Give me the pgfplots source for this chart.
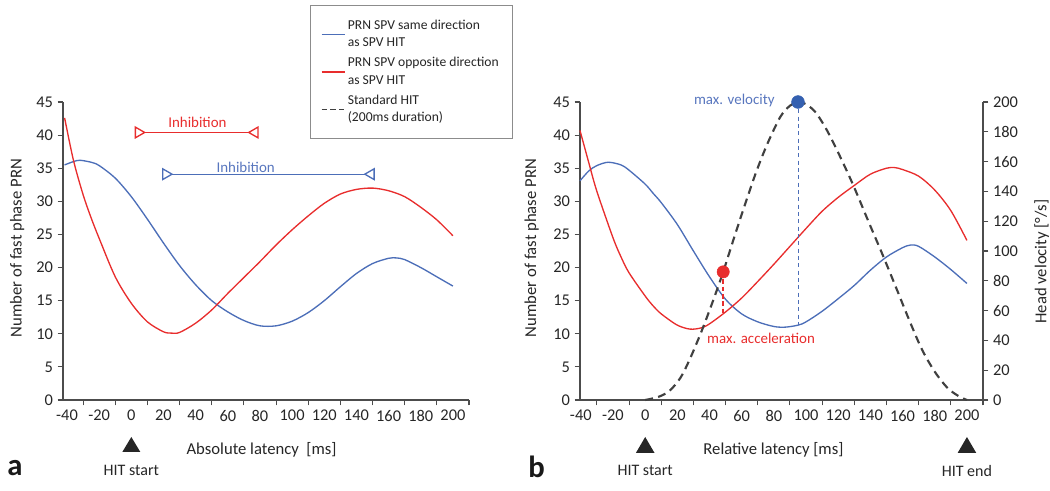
\documentclass[border=0pt]{standalone}
\usepackage{fontspec}
\setmainfont{Carlito}
\usepackage{pgfplots}
\pgfplotsset{compat=1.18}
\usetikzlibrary{arrows.meta}
\definecolor{cblue}{RGB}{76,110,184}
\definecolor{cred}{RGB}{232,45,45}
\definecolor{cdash}{RGB}{64,64,64}
\definecolor{tblue}{RGB}{88,118,190}
\definecolor{dblue}{RGB}{52,96,176}
\newcommand{\lgd}[2]{\fontsize{10.2}{13}\selectfont\begin{tabular}[t]{@{}l@{}}#1\\#2\end{tabular}}
\pgfplotsset{
  base/.style={
    scale only axis, clip=false,
    /pgf/number format/assume math mode=true,
    tick align=outside,
    major tick length=4pt, minor tick length=4pt,
    axis line style={black!70, line width=0.8pt},
    tick style={black!70, line width=0.8pt},
    every major x tick/.append style={draw=none},
    tick label style={font=\fontsize{12.3}{14}\selectfont, text=black!85},
    label style={font=\fontsize{12.5}{15}\selectfont, text=black!85},
    ymin=0, ymax=45, ytick={0,5,...,45},
    xmax=210,
    xtick={-40,-20,...,200},
    minor xtick={-30,-10,...,210},
  }
}
\begin{document}
\begin{tikzpicture}
\path[use as bounding box] (0,0) rectangle (787.5pt,368.25pt);
% ---------------- panel a ----------------
\begin{axis}[base,
  at={(47.25pt,68.25pt)}, anchor=south west,
  width=304.5pt, height=223.5pt,
  xmin=-42.5,
  axis x line*=bottom, axis y line*=left,
  xlabel={Absolute latency\ \ [ms]},
  ylabel={Number of fast phase PRN},
  xlabel style={at={(axis description cs:0.489,-0.168)}, anchor=center},
  ylabel style={at={(axis description cs:-0.1126,0.51)}, anchor=center},
  legend cell align=left,
  legend style={at={(axis description cs:0.6084,1.3255)}, anchor=north west,
    draw=black!45, line width=0.6pt, fill=white,
    font=\fontsize{10.2}{13}\selectfont, text=black!85,
    nodes={text depth=}, row sep=-2pt, inner xsep=8pt, inner ysep=7pt},
]
\addplot[cblue, line width=1pt, smooth] coordinates {
(-41.5,35.5) (-36,36.0) (-32,36.2) (-25,35.9) (-20,35.4) (-10,33.5) (0,30.7) (10,27.3) (20,23.7) (30,20.3) (40,17.4) (50,15.0) (60,13.3) (70,12.0) (80,11.2) (90,11.2) (100,11.9) (110,13.2) (120,15.0) (130,17.1) (140,19.1) (150,20.6) (160,21.4) (165,21.45) (170,21.2) (180,20.0) (190,18.6) (200,17.2)};
\addlegendentry{\lgd{PRN SPV same direction}{as SPV HIT}}
\addplot[cred, line width=1pt, smooth] coordinates {
(-41.5,42.6) (-36,36.2) (-30,31.0) (-25,27.5) (-20,24.4) (-10,18.6) (0,14.6) (10,11.8) (20,10.3) (25,10.1) (30,10.2) (40,11.6) (50,13.6) (60,16.1) (70,18.5) (80,20.9) (90,23.4) (100,25.7) (110,27.8) (120,29.7) (130,31.1) (140,31.8) (150,32.0) (160,31.6) (170,30.7) (180,29.1) (190,27.2) (200,24.8)};
\addlegendentry{\lgd{PRN SPV opposite direction}{as SPV HIT}}
\addlegendimage{cdash, line width=1pt, dash pattern=on 4pt off 2.5pt}
\addlegendentry{\lgd{Standard HIT}{(200ms duration)}}
% inhibition bars
\addplot[cred, line width=1pt, forget plot,
  {Triangle[open,reversed,length=8.5pt,width=9.5pt,line width=1pt]}-{Triangle[open,reversed,length=8.5pt,width=9.5pt,line width=1pt]}]
  coordinates {(2.1,40.4) (79.2,40.4)};
\addplot[cblue, line width=1pt, forget plot,
  {Triangle[open,reversed,length=8.5pt,width=9.5pt,line width=1pt]}-{Triangle[open,reversed,length=8.5pt,width=9.5pt,line width=1pt]}]
  coordinates {(19.1,34.1) (151.4,34.1)};
\node[text=cred, font=\fontsize{11.2}{13}\selectfont] at (axis cs:41.1,41.9) {Inhibition};
\node[text=tblue, font=\fontsize{11.2}{13}\selectfont] at (axis cs:71.1,35.2) {Inhibition};
\node[font=\fontsize{12}{14}\selectfont, text=black!85] at ([yshift=-53pt]axis cs:0,0) {HIT start};
\end{axis}
% ---------------- panel b ----------------
\begin{axis}[base,
  at={(435pt,68.25pt)}, anchor=south west,
  width=302.25pt, height=223.5pt,
  xmin=-40.5,
  axis x line*=bottom, axis y line*=left,
  xlabel={Relative latency [ms]},
  ylabel={Number of fast phase PRN},
  xlabel style={at={(axis description cs:0.48,-0.168)}, anchor=center},
  ylabel style={at={(axis description cs:-0.12,0.51)}, anchor=center},
]
\addplot[cblue, line width=1pt, smooth] coordinates {
(-40.5,33.1) (-35,34.6) (-30,35.4) (-23,35.9) (-15,35.5) (-10,34.7) (0,32.6) (5,31.2) (10,29.8) (20,26.5) (30,22.5) (40,18.6) (50,15.2) (60,13.0) (70,11.8) (80,11.1) (87,11.0) (95,11.3) (100,11.8) (110,13.4) (120,15.3) (130,17.3) (140,19.6) (150,21.6) (160,23.0) (165,23.4) (170,23.2) (180,21.6) (190,19.7) (200,17.6)};
\addplot[cred, line width=1pt, smooth] coordinates {
(-40.5,40.7) (-35,35.8) (-30,31.5) (-20,24.5) (-15,21.6) (-10,19.2) (0,15.7) (5,14.2) (10,13.0) (20,11.3) (28,10.7) (35,10.9) (40,11.5) (50,13.3) (60,15.4) (70,17.9) (80,20.5) (90,23.2) (100,25.9) (110,28.5) (120,30.6) (130,32.4) (140,34.1) (150,35.0) (155,35.1) (160,34.8) (170,33.8) (180,31.7) (190,28.6) (200,24.1)};
\node[font=\fontsize{12}{14}\selectfont, text=black!85] at ([yshift=-53pt]axis cs:0,0) {HIT start};
\node[font=\fontsize{12}{14}\selectfont, text=black!85] at ([yshift=-53pt]axis cs:200,0) {HIT end};
\end{axis}
\begin{axis}[
  scale only axis, clip=false,
  at={(435pt,68.25pt)}, anchor=south west,
  width=302.25pt, height=223.5pt,
  /pgf/number format/assume math mode=true,
  xmin=-40.5, xmax=210, ymin=0, ymax=200,
  axis x line=none, axis y line*=right,
  ytick={0,20,...,200},
  tick align=outside, major tick length=4pt,
  axis line style={black!70, line width=0.8pt},
  tick style={black!70, line width=0.8pt},
  tick label style={font=\fontsize{12.3}{14}\selectfont, text=black!85},
  label style={font=\fontsize{12.5}{15}\selectfont, text=black!85},
  ylabel={Head velocity [°/s]},
  ylabel style={at={(axis description cs:1.1457,0.464)}, anchor=center},
]
\addplot[cdash, line width=1.6pt, dash pattern=on 6pt off 4pt, smooth] coordinates {
(0,0) (8,2) (15,6) (22,15) (28,28) (35,46) (42,66) (48.5,86) (55,108) (62,131) (69,153) (76,172) (84,190) (90,197.5) (95,200) (100,198.5) (106,193) (113,181) (120,166) (129,145) (139.5,118) (147,99) (155,78) (164,54) (172,34) (180,19) (188,8) (195,2.5) (200,0)};
\addplot[cblue, line width=0.7pt, dash pattern=on 3pt off 2.5pt] coordinates {(95,200) (95,50.2)};
\addplot[cred, line width=1.5pt, dash pattern=on 3.5pt off 2pt] coordinates {(48.5,86) (48.5,58.2)};
\addplot[only marks, mark=*, mark size=4.8pt, dblue, mark options={fill=dblue, draw=dblue}] coordinates {(95,200)};
\addplot[only marks, mark=*, mark size=4.6pt, cred, mark options={fill=cred, draw=cred}] coordinates {(48.5,86)};
\node[anchor=east, inner sep=0pt, text=tblue, font=\fontsize{11.2}{13}\selectfont] at (axis cs:80.6,200.9) {max. velocity};
\node[text=cred, font=\fontsize{11.2}{13}\selectfont] at (axis cs:72,41.3) {max. acceleration};
\end{axis}
% HIT markers
\fill[black!85] (91.75pt,29.25pt) -- (105.25pt,29.25pt) -- (98.5pt,40.5pt) -- cycle;
\fill[black!85] (476.9pt,28.5pt) -- (490.9pt,28.5pt) -- (483.9pt,40.5pt) -- cycle;
\fill[black!85] (718.2pt,28.5pt) -- (732.2pt,28.5pt) -- (725.2pt,40.5pt) -- cycle;
\node[font=\fontsize{23}{26}\selectfont\bfseries, text=black!90] at (11.25pt,17.25pt) {a};
\node[font=\fontsize{23}{26}\selectfont\bfseries, text=black!90] at (402.5pt,18.2pt) {b};
\end{tikzpicture}
\end{document}
